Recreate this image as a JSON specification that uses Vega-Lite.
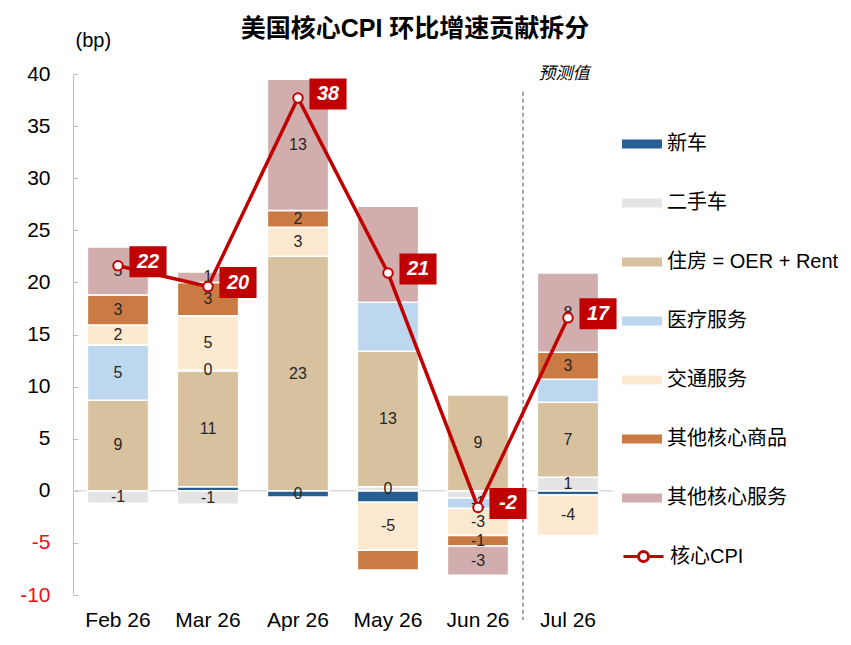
{
  "$schema": "https://vega.github.io/schema/vega-lite/v6.json",
  "autosize": "none",
  "width": 540,
  "height": 521,
  "padding": {"left": 73, "top": 74, "right": 238, "bottom": 50},
  "background": "white",
  "title": {
    "text": "美国核心CPI 环比增速贡献拆分",
    "anchor": "middle",
    "dx": 72,
    "offset": -12,
    "fontSize": 25,
    "fontWeight": "bold",
    "color": "black"
  },
  "datasets": {
    "parts": [
      {"m": "Feb 26", "s": "二手车", "k": 2, "v": -1.2, "t": "-1"},
      {"m": "Feb 26", "s": "住房 = OER + Rent", "k": 3, "v": 8.7, "t": "9"},
      {"m": "Feb 26", "s": "医疗服务", "k": 4, "v": 5.3, "t": "5"},
      {"m": "Feb 26", "s": "交通服务", "k": 5, "v": 1.9, "t": "2"},
      {"m": "Feb 26", "s": "其他核心商品", "k": 6, "v": 2.9, "t": "3"},
      {"m": "Feb 26", "s": "其他核心服务", "k": 7, "v": 4.6, "t": "5"},
      {"m": "Mar 26", "s": "新车", "k": 1, "v": 0.4, "t": ""},
      {"m": "Mar 26", "s": "二手车", "k": 2, "v": -1.3, "t": "-1"},
      {"m": "Mar 26", "s": "住房 = OER + Rent", "k": 3, "v": 11.1, "t": "11"},
      {"m": "Mar 26", "s": "医疗服务", "k": 4, "v": 0.1, "t": "0"},
      {"m": "Mar 26", "s": "交通服务", "k": 5, "v": 5.2, "t": "5"},
      {"m": "Mar 26", "s": "其他核心商品", "k": 6, "v": 3.2, "t": "3"},
      {"m": "Mar 26", "s": "其他核心服务", "k": 7, "v": 1.0, "t": "1"},
      {"m": "Apr 26", "s": "新车", "k": 1, "v": -0.6, "t": "0"},
      {"m": "Apr 26", "s": "住房 = OER + Rent", "k": 3, "v": 22.5, "t": "23"},
      {"m": "Apr 26", "s": "交通服务", "k": 5, "v": 2.8, "t": "3"},
      {"m": "Apr 26", "s": "其他核心商品", "k": 6, "v": 1.6, "t": "2"},
      {"m": "Apr 26", "s": "其他核心服务", "k": 7, "v": 12.6, "t": "13"},
      {"m": "May 26", "s": "新车", "k": 1, "v": -1.1, "t": ""},
      {"m": "May 26", "s": "二手车", "k": 2, "v": 0.4, "t": "0"},
      {"m": "May 26", "s": "住房 = OER + Rent", "k": 3, "v": 13.0, "t": "13"},
      {"m": "May 26", "s": "医疗服务", "k": 4, "v": 4.7, "t": ""},
      {"m": "May 26", "s": "交通服务", "k": 5, "v": -4.6, "t": "-5"},
      {"m": "May 26", "s": "其他核心商品", "k": 6, "v": -1.9, "t": ""},
      {"m": "May 26", "s": "其他核心服务", "k": 7, "v": 9.2, "t": ""},
      {"m": "Jun 26", "s": "二手车", "k": 2, "v": -0.7, "t": ""},
      {"m": "Jun 26", "s": "住房 = OER + Rent", "k": 3, "v": 9.2, "t": "9"},
      {"m": "Jun 26", "s": "医疗服务", "k": 4, "v": -1.0, "t": "-1"},
      {"m": "Jun 26", "s": "交通服务", "k": 5, "v": -2.6, "t": "-3"},
      {"m": "Jun 26", "s": "其他核心商品", "k": 6, "v": -1.0, "t": "-1"},
      {"m": "Jun 26", "s": "其他核心服务", "k": 7, "v": -2.8, "t": "-3"},
      {"m": "Jul 26", "s": "新车", "k": 1, "v": -0.4, "t": ""},
      {"m": "Jul 26", "s": "二手车", "k": 2, "v": 1.3, "t": "1"},
      {"m": "Jul 26", "s": "住房 = OER + Rent", "k": 3, "v": 7.2, "t": "7"},
      {"m": "Jul 26", "s": "医疗服务", "k": 4, "v": 2.2, "t": ""},
      {"m": "Jul 26", "s": "交通服务", "k": 5, "v": -3.9, "t": "-4"},
      {"m": "Jul 26", "s": "其他核心商品", "k": 6, "v": 2.6, "t": "3"},
      {"m": "Jul 26", "s": "其他核心服务", "k": 7, "v": 7.6, "t": "8"}
    ],
    "cpi": [
      {"m": "Feb 26", "s": "核心CPI", "v": 21.6, "t": "22"},
      {"m": "Mar 26", "s": "核心CPI", "v": 19.6, "t": "20"},
      {"m": "Apr 26", "s": "核心CPI", "v": 37.7, "t": "38"},
      {"m": "May 26", "s": "核心CPI", "v": 20.9, "t": "21"},
      {"m": "Jun 26", "s": "核心CPI", "v": -1.6, "t": "-2"},
      {"m": "Jul 26", "s": "核心CPI", "v": 16.6, "t": "17"}
    ]
  },
  "encoding": {
    "x": {
      "field": "m",
      "type": "nominal",
      "sort": null,
      "scale": {"domain": ["Feb 26", "Mar 26", "Apr 26", "May 26", "Jun 26", "Jul 26"], "paddingInner": 0, "paddingOuter": 0},
      "axis": {"title": null, "labelAngle": 0, "domain": false, "ticks": false, "labelPadding": 14, "labelFontSize": 21, "labelColor": "black"}
    }
  },
  "layer": [
    {
      "data": {"values": [{}]},
      "mark": {"type": "rule", "color": "#D9D9D9", "strokeWidth": 1.5},
      "encoding": {"x": null, "y": {"datum": 0, "type": "quantitative"}}
    },
    {
      "data": {"values": [{}]},
      "mark": {"type": "rule", "color": "#A6A6A6", "strokeWidth": 2, "strokeDash": [4, 3]},
      "encoding": {
        "x": {"datum": "Jul 26", "bandPosition": 0},
        "y": {"datum": 38.3, "type": "quantitative"},
        "y2": {"datum": -12.4}
      }
    },
    {
      "data": {"values": [{}]},
      "mark": {"type": "text", "text": "预测值", "fontSize": 17, "fontStyle": "italic", "color": "black", "dx": -4},
      "encoding": {
        "x": {"datum": "Jul 26"},
        "y": {"datum": 40, "type": "quantitative"}
      }
    },
    {
      "data": {"name": "parts"},
      "mark": {"type": "bar", "width": {"band": 0.68}, "stroke": "white", "strokeWidth": 1.5},
      "encoding": {
        "y": {
          "field": "v",
          "type": "quantitative",
          "stack": "zero",
          "scale": {"domain": [-10, 40], "nice": false},
          "axis": {
            "title": "(bp)",
            "titleAngle": 0,
            "titleAlign": "left",
            "titleBaseline": "middle",
            "titleX": 2,
            "titleY": -34,
            "titleFontSize": 20,
            "titleFontWeight": "normal",
            "titleColor": "black",
            "values": [-10, -5, 0, 5, 10, 15, 20, 25, 30, 35, 40],
            "labelExpr": "replace(datum.label, '−', '-')",
            "grid": false,
            "domainColor": "#BFBFBF",
            "tickColor": "#BFBFBF",
            "tickSize": -5,
            "labelPadding": 28,
            "labelFontSize": 21,
            "labelColor": {"condition": {"test": "datum.value < 0", "value": "#E8101A"}, "value": "black"}
          }
        },
        "color": {
          "field": "s",
          "type": "nominal",
          "scale": {
            "domain": ["新车", "二手车", "住房 = OER + Rent", "医疗服务", "交通服务", "其他核心商品", "其他核心服务"],
            "range": ["#285E91", "#E4E4E4", "#D8C19F", "#BDD7EE", "#FDE9CF", "#C97B43", "#D1AEAD"]
          },
          "legend": {
            "title": null,
            "orient": "none",
            "legendX": 549,
            "legendY": 50,
            "symbolType": "M-1,-0.22H1V0.22H-1Z",
            "symbolSize": 1600,
            "symbolStrokeWidth": 0,
            "labelFontSize": 20,
            "labelColor": "black",
            "labelOffset": 5,
            "labelLimit": 300,
            "rowPadding": 29
          }
        },
        "order": {"field": "k", "type": "quantitative"}
      }
    },
    {
      "data": {"name": "parts"},
      "mark": {"type": "text", "fontSize": 16, "color": "#262626", "baseline": "middle"},
      "encoding": {
        "y": {"field": "v", "type": "quantitative", "stack": "zero", "bandPosition": 0.5},
        "detail": {"field": "s"},
        "order": {"field": "k", "type": "quantitative"},
        "text": {"field": "t"}
      }
    },
    {
      "data": {"name": "cpi"},
      "mark": {"type": "line", "strokeWidth": 3.5},
      "encoding": {
        "y": {"field": "v", "type": "quantitative"},
        "stroke": {
          "field": "s",
          "type": "nominal",
          "scale": {"domain": ["核心CPI"], "range": ["#C00000"]},
          "legend": {
            "title": null,
            "orient": "none",
            "legendX": 549,
            "legendY": 461,
            "symbolType": "M-1,0H-0.27M0.27,0H1M0.25,0A0.25,0.25,0,1,1,-0.25,0A0.25,0.25,0,1,1,0.25,0",
            "symbolSize": 1600,
            "symbolStrokeWidth": 3,
            "symbolFillColor": "white",
            "labelFontSize": 20,
            "labelColor": "black",
            "labelOffset": 5
          }
        }
      }
    },
    {
      "data": {"name": "cpi"},
      "mark": {"type": "point", "filled": true, "fill": "white", "stroke": "#C00000", "strokeWidth": 2, "size": 90, "opacity": 1},
      "encoding": {"y": {"field": "v", "type": "quantitative"}}
    },
    {
      "data": {"name": "cpi"},
      "mark": {"type": "point", "shape": "M-1.03,-0.86H1.03V0.86H-1.03Z", "filled": true, "fill": "#C00000", "size": 1296, "opacity": 1, "xOffset": 30, "yOffset": -4},
      "encoding": {"y": {"field": "v", "type": "quantitative"}}
    },
    {
      "data": {"name": "cpi"},
      "mark": {"type": "text", "color": "white", "fontSize": 20, "fontWeight": "bold", "fontStyle": "italic", "baseline": "middle", "xOffset": 30, "yOffset": -4},
      "encoding": {
        "y": {"field": "v", "type": "quantitative"},
        "text": {"field": "t"}
      }
    }
  ],
  "config": {
    "font": "Liberation Sans, Noto Sans CJK SC, sans-serif",
    "view": {"stroke": null}
  }
}
